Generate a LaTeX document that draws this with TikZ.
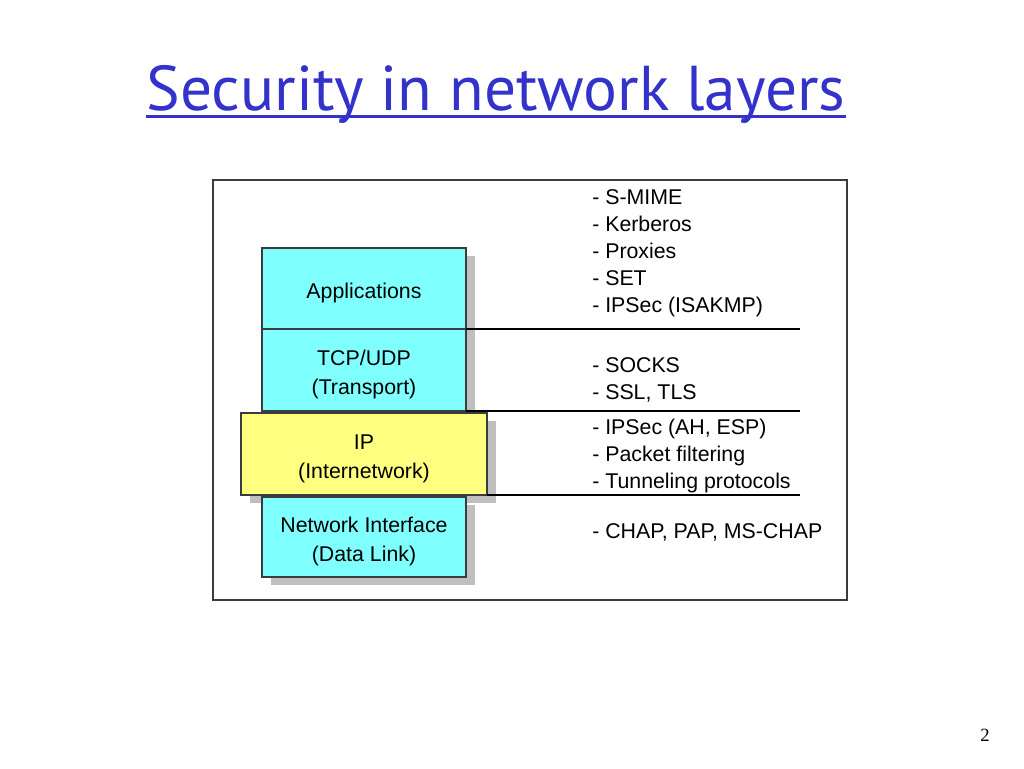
\documentclass[tikz,border=0pt]{standalone}
\usepackage{fontspec}
\setmainfont{Liberation Sans}
\newfontfamily\titlefont{PT Sans}
\newfontfamily\numfont{Liberation Serif}
\usetikzlibrary{shadows}

\definecolor{titleblue}{RGB}{51,51,204}
\definecolor{layercyan}{RGB}{128,255,255}
\definecolor{layeryellow}{RGB}{255,255,128}
\definecolor{framegray}{RGB}{60,60,60}

% box text, a little lower than the centre
\newcommand{\layertext}[1]{\raisebox{-3pt}[\height][\depth]{\begin{tabular}{@{}c@{}}#1\end{tabular}}}

\tikzset{
  layerbox/.style={draw=framegray,line width=0.9pt,fill=layercyan,align=center,
    minimum width=153pt,minimum height=61pt,inner sep=0pt,outer sep=0pt,
    font=\fontsize{16}{21.75}\selectfont,
    drop shadow={shadow xshift=6.5pt,shadow yshift=-6pt,fill=black!25,opacity=1}},
  protolist/.style={anchor=west,align=left,inner sep=0pt,
    font=\fontsize{16}{20.25}\selectfont},
  sepline/.style={line width=0.8pt}
}

\begin{document}
\begin{tikzpicture}[x=0.75pt,y=-0.75pt]
\useasboundingbox (0,0) rectangle (1024,768);

% title
\node[inner sep=0pt,text=titleblue,font=\titlefont\fontsize{47.5}{54}\selectfont] (title) at (496,94) {Security in network layers};
\draw[titleblue,line width=2.2pt] ([yshift=-5pt]title.base west) -- ([yshift=-5pt]title.base east);

% frame
\draw[framegray,line width=0.8pt] (213,180) rectangle (847,600);

% layers
\node[layerbox,minimum height=60.75pt] (app) at (364,288.5) {\layertext{Applications}};
\node[layerbox,minimum height=61.5pt] (tcp) at (364,370) {\layertext{TCP/UDP\\(Transport)}};
\node[layerbox,fill=layeryellow,minimum width=184.5pt,minimum height=61.5pt] (ip) at (364,454) {\layertext{IP\\(Internetwork)}};
\node[layerbox,minimum height=60pt] (link) at (364,537) {\layertext{Network Interface\\(Data Link)}};

% separators
\coordinate (r1) at (800,329);
\coordinate (r2) at (800,411);
\coordinate (r3) at (800,495);
\draw[sepline] (app.south east) -- (app.south east -| r1);
\draw[sepline] (tcp.south east) -- (tcp.south east -| r2);
\draw[sepline] (ip.south east) -- (ip.south east -| r3);

% protocols
\node[protolist] (appl) at (592,253.5) {- S-MIME\\- Kerberos\\- Proxies\\- SET\\- IPSec (ISAKMP)};
\node[protolist] (tcpl) at (592,380) {- SOCKS\\- SSL, TLS};
\node[protolist] (ipl) at (592,456) {- IPSec (AH, ESP)\\- Packet filtering\\- Tunneling protocols};
\node[protolist] (linkl) at (592,532) {- CHAP, PAP, MS-CHAP};

% page number
\node[font=\numfont\fontsize{14}{16}\selectfont] (page) at (985,735) {2};

\end{tikzpicture}
\end{document}
